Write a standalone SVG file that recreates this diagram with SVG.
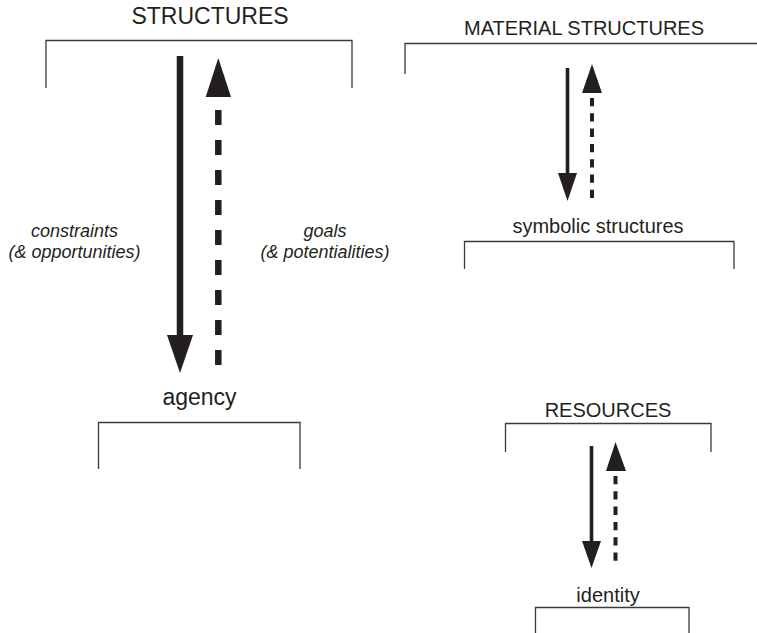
<svg xmlns="http://www.w3.org/2000/svg" width="757" height="633" viewBox="0 0 757 633">
<style>
  .bg{fill:#ffffff}
  .br{fill:none;stroke:#3a3a3a;stroke-width:1.3}
  .t{font-family:"Liberation Sans",Arial,sans-serif;fill:#231f20;text-anchor:middle}
  .it{font-style:italic;font-size:18px}
  .ln{stroke:#231f20;fill:none}
  .hd{fill:#231f20}
</style>
<rect class="bg" x="0" y="0" width="757" height="633"/>
<g id="structures">
  <path class="br" d="M46,88 V40.5 H352 V88"/>
  <text class="t" x="210" y="24" font-size="23">STRUCTURES</text>
</g>
<g id="agency">
  <path class="br" d="M98.5,469 V422.5 H300 V469"/>
  <text class="t" x="199.5" y="405" font-size="23">agency</text>
</g>
<g id="material-structures">
  <path class="br" d="M405,74 V43.5 H757"/>
  <text class="t" x="584" y="35" font-size="20">MATERIAL STRUCTURES</text>
</g>
<g id="symbolic-structures">
  <path class="br" d="M464.5,269 V241.5 H734 V269"/>
  <text class="t" x="598" y="233" font-size="20">symbolic structures</text>
</g>
<g id="resources">
  <path class="br" d="M505.5,452 V423.5 H711 V452"/>
  <text class="t" x="608" y="417" font-size="20">RESOURCES</text>
</g>
<g id="identity">
  <path class="br" d="M535.5,633 V607.5 H689 V633"/>
  <text class="t" x="608" y="602" font-size="20">identity</text>
</g>
<g id="labels">
  <text class="t it" x="74.5" y="237">constraints</text>
  <text class="t it" x="74.5" y="258">(&amp; opportunities)</text>
  <text class="t it" x="325" y="237">goals</text>
  <text class="t it" x="325" y="258">(&amp; potentialities)</text>
</g>
<g id="connectors">
  <!-- left pair -->
  <line class="ln" x1="180" y1="56" x2="180" y2="337" stroke-width="6.5"/>
  <polygon class="hd" points="167,335 193,335 180,373"/>
  <line class="ln" x1="218.3" y1="110" x2="218.3" y2="365" stroke-width="6.5" stroke-dasharray="15 15"/>
  <polygon class="hd" points="205.7,97 231,97 218.3,58"/>
  <!-- material / symbolic pair -->
  <line class="ln" x1="567.5" y1="68" x2="567.5" y2="175" stroke-width="3.6"/>
  <polygon class="hd" points="558,173 577,173 567.5,201"/>
  <line class="ln" x1="592" y1="98" x2="592" y2="198" stroke-width="4" stroke-dasharray="8.3 7"/>
  <polygon class="hd" points="582,93 602,93 592,64"/>
  <!-- resources / identity pair -->
  <line class="ln" x1="591.5" y1="446" x2="591.5" y2="543" stroke-width="3.6"/>
  <polygon class="hd" points="582,541 601,541 591.5,568"/>
  <line class="ln" x1="615.5" y1="476" x2="615.5" y2="565" stroke-width="4" stroke-dasharray="8.3 7"/>
  <polygon class="hd" points="606,471 626,471 615.5,442"/>
</g>
</svg>
